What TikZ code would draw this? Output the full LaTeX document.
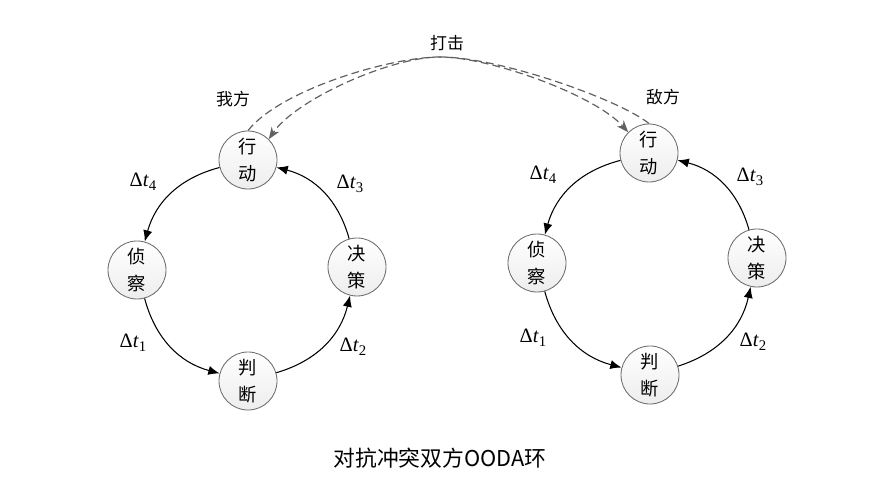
\documentclass[tikz,border=0pt]{standalone}
\usepackage{fontspec}
\newfontfamily\cjk{Noto Sans CJK SC}
\newfontfamily\tms{Liberation Serif}
\usetikzlibrary{arrows.meta}
\newcommand{\dtl}[1]{{\tms Δ\textit{t}\raisebox{-0.45ex}{\fontsize{10.5}{10.5}\selectfont #1}}}
\begin{document}
\begin{tikzpicture}[x=0.025cm,y=-0.025cm,
  stage/.style={circle,draw=gray!85!black,line width=0.6pt,top color=white,bottom color=gray!14,
    minimum size=1.45cm,inner sep=0pt,font=\cjk\fontsize{13}{19}\selectfont,align=center},
  flow/.style={line width=0.75pt,-{Latex[length=8pt,width=6.5pt]}},
  loop/.style={bend right=30},
  strike/.style={draw=black!62,line width=0.85pt,dash pattern=on 5.5pt off 3pt,
    -{Stealth[length=8.5pt,width=6.5pt]}},
  dt/.style={font=\fontsize{14.5}{16}\selectfont},
  lbl/.style={font=\cjk\fontsize{12}{14}\selectfont}]
\useasboundingbox (0,0) rectangle (886,485);
% left loop
\node[stage] (LA) at (248,160) {行\\动};
\node[stage] (LO) at (137,270) {侦\\察};
\node[stage] (LJ) at (248,381) {判\\断};
\node[stage] (LD) at (357,267) {决\\策};
\draw[flow] (LA) to[loop] (LO);
\draw[flow] (LO) to[loop] (LJ);
\draw[flow] (LJ) to[loop] (LD);
\draw[flow] (LD) to[loop] (LA);
\node[dt] (L4) at (143,182) {\dtl{4}};
\node[dt] (L3) at (350,184) {\dtl{3}};
\node[dt] (L1) at (133,343) {\dtl{1}};
\node[dt] (L2) at (353,347) {\dtl{2}};
% right loop
\node[stage] (RA) at (649,153) {行\\动};
\node[stage] (RO) at (537,263) {侦\\察};
\node[stage] (RJ) at (650,375) {判\\断};
\node[stage] (RD) at (757,258) {决\\策};
\draw[flow] (RA) to[loop] (RO);
\draw[flow] (RO) to[loop] (RJ);
\draw[flow] (RJ) to[loop] (RD);
\draw[flow] (RD) to[loop] (RA);
\node[dt] (R4) at (543,175) {\dtl{4}};
\node[dt] (R3) at (750,177) {\dtl{3}};
\node[dt] (R1) at (533,338) {\dtl{1}};
\node[dt] (R2) at (753,342) {\dtl{2}};
% strikes
\coordinate (top) at (440,57);
\draw[strike] (LA.north) .. controls (280,90) and (390,57) .. (top) .. controls (490,57) and (595,95) .. (RA.135);
\draw[strike] (RA.north) .. controls (620,100) and (500,57) .. (top) .. controls (390,57) and (295,100) .. (LA.45);
% labels
\node[lbl] (me) at (233,99) {我方};
\node[lbl] (en) at (663,97) {敌方};
\node[lbl] (hit) at (447,43) {打击};
\node[font=\cjk\fontsize{15.5}{18}\selectfont] (cap) at (440,458) {对抗冲突双方OODA环};
\end{tikzpicture}
\end{document}
